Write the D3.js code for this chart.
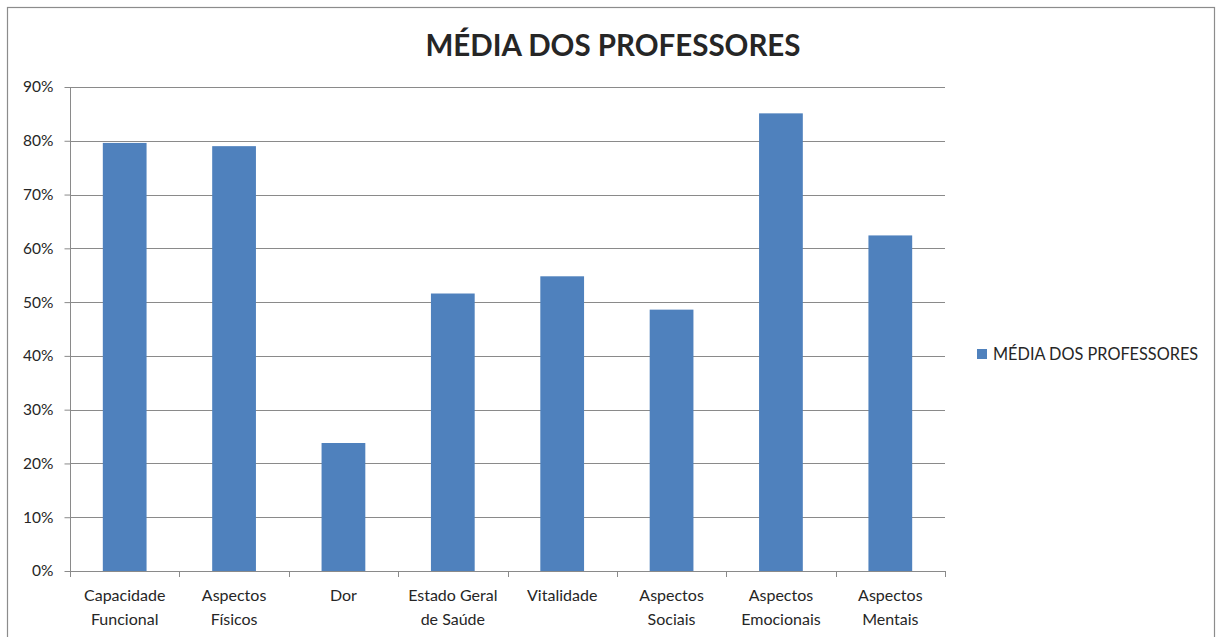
<!DOCTYPE html>
<html>
<head>
<meta charset="utf-8">
<script src="https://cdn.jsdelivr.net/npm/d3@7"></script>
<style>
  html, body { margin: 0; padding: 0; background: #fff; }
  svg { display: block; }
  text { font-family: Lato, "Open Sans", sans-serif; fill: #262626; }
</style>
</head>
<body>
<svg id="chart" width="1216" height="637"></svg>
<script>
// Média dos professores por domínio (fração de 0 a 1)
const categories = [
  "Capacidade Funcional",
  "Aspectos Físicos",
  "Dor",
  "Estado Geral de Saúde",
  "Vitalidade",
  "Aspectos Sociais",
  "Aspectos Emocionais",
  "Aspectos Mentais"
];
const values = [0.796, 0.790, 0.238, 0.516, 0.548, 0.486, 0.851, 0.624];
const yTicks = [0, 0.1, 0.2, 0.3, 0.4, 0.5, 0.6, 0.7, 0.8, 0.9];
const seriesName = "MÉDIA DOS PROFESSORES";
const chartTitle = "MÉDIA DOS PROFESSORES";

const plot = { left: 70, right: 945, top: 87, bottom: 571 };
const barColor = "#4f81bd";
const gridColor = "#8a8a8a";
const labelSize = "16px";

const svg = d3.select("#chart");

// chart frame
svg.append("rect")
  .attr("x", 7.5).attr("y", 7.5)
  .attr("width", 1207).attr("height", 660)
  .attr("fill", "#fff")
  .attr("stroke", "#8c8c8c").attr("stroke-width", 1.2);

const x = d3.scaleBand()
  .domain(categories)
  .range([plot.left, plot.right])
  .paddingInner(0.6)
  .paddingOuter(0.3);

const y = d3.scaleLinear()
  .domain([0, 0.9])
  .range([plot.bottom, plot.top]);

// horizontal gridlines
svg.append("g")
  .selectAll("line")
  .data(yTicks.filter(t => t > 0))
  .join("line")
  .attr("x1", plot.left).attr("x2", plot.right)
  .attr("y1", d => Math.round(y(d)) + 0.5)
  .attr("y2", d => Math.round(y(d)) + 0.5)
  .attr("stroke", gridColor).attr("stroke-width", 1);

// bars
svg.append("g")
  .selectAll("rect")
  .data(values)
  .join("rect")
  .attr("x", (d, i) => x(categories[i]))
  .attr("y", d => y(d))
  .attr("width", x.bandwidth())
  .attr("height", d => y(0) - y(d))
  .attr("fill", barColor);

// y axis
const yAxis = d3.axisLeft(y)
  .tickValues(yTicks)
  .tickFormat(d3.format(".0%"))
  .tickSize(6)
  .tickPadding(11);

const gy = svg.append("g")
  .attr("transform", `translate(${plot.left + 0.5},0)`)
  .call(yAxis);
gy.select(".domain").attr("stroke", gridColor).attr("d", `M0,${plot.top}V${plot.bottom}`);
gy.selectAll(".tick line").attr("stroke", gridColor);
gy.selectAll(".tick text")
  .style("font-family", "Lato, 'Open Sans', sans-serif")
  .style("font-size", "15.5px")
  .attr("fill", "#262626");

// x axis: baseline and ticks at category boundaries
const step = x.step();
const boundaries = d3.range(categories.length + 1).map(i => plot.left + i * step);
const gx = svg.append("g");
gx.append("line")
  .attr("x1", plot.left).attr("x2", plot.right)
  .attr("y1", plot.bottom + 0.5).attr("y2", plot.bottom + 0.5)
  .attr("stroke", gridColor);
gx.selectAll("line.tk")
  .data(boundaries)
  .join("line")
  .attr("class", "tk")
  .attr("x1", d => Math.round(d) + 0.5).attr("x2", d => Math.round(d) + 0.5)
  .attr("y1", plot.bottom).attr("y2", plot.bottom + 6)
  .attr("stroke", gridColor);

// category labels, wrapped to the band width
const labelG = svg.append("g");
categories.forEach(cat => {
  const cx = x(cat) + x.bandwidth() / 2;
  const t = labelG.append("text")
    .attr("x", cx)
    .attr("y", 601)
    .attr("text-anchor", "middle")
    .style("font-size", labelSize);
  const words = cat.split(" ");
  let lines = [], line = [];
  const probe = labelG.append("text").style("font-size", labelSize);
  words.forEach(w => {
    const attempt = line.concat([w]).join(" ");
    probe.text(attempt);
    if (line.length && probe.node().getComputedTextLength() > 106) {
      lines.push(line.join(" "));
      line = [w];
    } else {
      line.push(w);
    }
  });
  lines.push(line.join(" "));
  probe.remove();
  lines.forEach((l, k) => {
    t.append("tspan").attr("x", cx).attr("dy", k === 0 ? 0 : 24).text(l);
  });
});

// title
svg.append("text")
  .attr("x", 613).attr("y", 56)
  .attr("text-anchor", "middle")
  .style("font-size", "29.5px")
  .style("font-weight", "bold")
  .attr("fill", "#000")
  .text(chartTitle);

// legend
const lg = svg.append("g").attr("transform", "translate(977,349)");
lg.append("rect").attr("width", 10).attr("height", 10).attr("fill", barColor);
lg.append("text")
  .attr("x", 16).attr("y", 11)
  .style("font-size", "16.3px")
  .text(seriesName);
</script>
</body>
</html>
